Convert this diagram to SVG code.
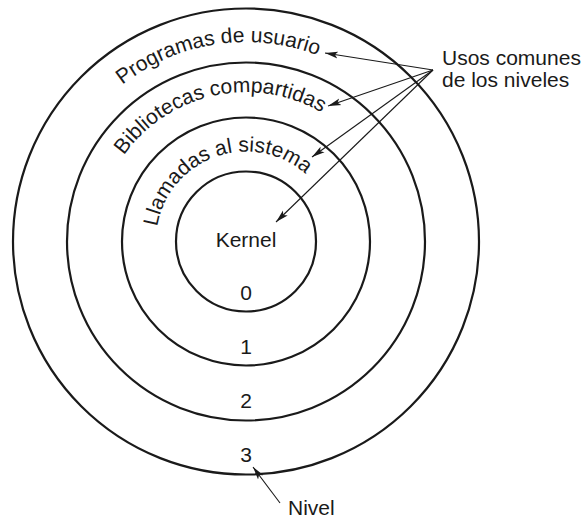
<svg xmlns="http://www.w3.org/2000/svg" xmlns:xlink="http://www.w3.org/1999/xlink" width="584" height="518" viewBox="0 0 584 518">
<style>
  .ring { fill: none; stroke: #1a1a1a; stroke-width: 2.2; }
  .lbl { font-family: "Liberation Sans", Arial, sans-serif; font-size: 21px; fill: #1a1a1a; }
  .ptr { stroke: #1a1a1a; stroke-width: 1.1; fill: none; marker-end: url(#ah); }
</style>
<defs>
  <marker id="ah" markerUnits="userSpaceOnUse" markerWidth="14" markerHeight="8" refX="13" refY="4" orient="auto">
    <path d="M0,0.6 L13,4 L0,7.4 L3,4 Z" fill="#1a1a1a"/>
  </marker>
  <path id="arc3" d="M48.25,271.41 A200,200 0 0 1 443.75,211.59"/>
  <path id="arc2" d="M99.39,273.20 A150,150 0 0 1 392.61,209.80"/>
  <path id="arc1" d="M161.21,271.69 A90,90 0 0 1 330.79,211.31"/>
</defs>
<g id="level3">
  <circle class="ring" cx="246" cy="241.5" r="233"/>
  <text class="lbl"><textPath xlink:href="#arc3" href="#arc3" startOffset="50%" text-anchor="middle">Programas de usuario</textPath></text>
  <text class="lbl" x="246" y="462" text-anchor="middle">3</text>
</g>
<g id="level2">
  <circle class="ring" cx="246" cy="241.5" r="179"/>
  <text class="lbl"><textPath xlink:href="#arc2" href="#arc2" startOffset="50%" text-anchor="middle">Bibliotecas compartidas</textPath></text>
  <text class="lbl" x="246" y="408" text-anchor="middle">2</text>
</g>
<g id="level1">
  <circle class="ring" cx="246" cy="241.5" r="124"/>
  <text class="lbl"><textPath xlink:href="#arc1" href="#arc1" startOffset="50%" text-anchor="middle">Llamadas al sistema</textPath></text>
  <text class="lbl" x="246" y="354" text-anchor="middle">1</text>
</g>
<g id="level0">
  <circle class="ring" cx="246" cy="241.5" r="70"/>
  <text class="lbl" x="246" y="247" text-anchor="middle">Kernel</text>
  <text class="lbl" x="246" y="300" text-anchor="middle">0</text>
</g>
<g id="usos">
  <text class="lbl" x="442" y="65">Usos comunes</text>
  <text class="lbl" x="442" y="87">de los niveles</text>
</g>
<g id="nivel">
  <text class="lbl" x="288" y="515">Nivel</text>
</g>
<g id="connectors">
  <line class="ptr" x1="433" y1="70" x2="325" y2="53"/>
  <line class="ptr" x1="433" y1="70" x2="328" y2="106"/>
  <line class="ptr" x1="433" y1="70" x2="312" y2="157"/>
  <line class="ptr" x1="433" y1="70" x2="276" y2="222"/>
  <line class="ptr" x1="280" y1="503" x2="253" y2="467"/>
</g>
</svg>
